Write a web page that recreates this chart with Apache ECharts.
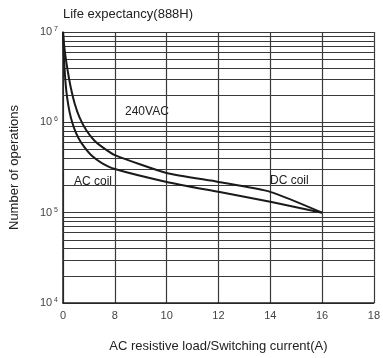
<!DOCTYPE html>
<html>
<head>
<meta charset="utf-8">
<script src="https://cdn.jsdelivr.net/npm/echarts@6/dist/echarts.min.js"></script>
<style>html,body{margin:0;padding:0;background:#fff;}#c{width:383px;height:358px;}</style>
</head>
<body>
<div id="c"></div>
<script>
// Tick labels of the (non-linear) current axis, equally spaced
var xTickLabels = ['0', '8', '10', '12', '14', '16', '18'];
// Upper curve (switching current A, number of operations)
var upperAmps = [0, 0.15, 0.375, 0.75, 1.2, 1.8, 2.55, 3.6, 4.8, 6.3, 8, 10, 12, 14, 16];
var upperOps  = [1e7, 7.38e6, 5.45e6, 3.63e6, 2.43e6, 1.62e6, 1.135e6, 8.17e5, 6.34e5, 5.18e5, 4.34e5, 2.75e5, 2.19e5, 1.7e5, 1e5];
// Lower curve
var lowerAmps = [0, 0.075, 0.15, 0.3, 0.525, 0.825, 1.2, 1.725, 2.4, 3.3, 4.5, 6.0, 8, 10, 12, 14, 16];
var lowerOps  = [1e7, 7.38e6, 5.18e6, 3.37e6, 2.19e6, 1.54e6, 1.135e6, 8.59e5, 6.67e5, 5.31e5, 4.23e5, 3.54e5, 3.04e5, 2.19e5, 1.7e5, 1.32e5, 1e5];
// Minor log grid multipliers and decades
var minorMult = [2, 3, 4, 5, 6, 7, 8, 9];
var decades = [4, 5, 6];

// map current (A) onto the equally spaced tick positions
var tickValues = xTickLabels.map(Number);
function pos(a) {
  for (var i = 0; i < tickValues.length - 1; i++) {
    if (a <= tickValues[i + 1]) {
      return i + (a - tickValues[i]) / (tickValues[i + 1] - tickValues[i]);
    }
  }
  return tickValues.length - 1;
}
function pairs(xs, ys) { return xs.map(function (a, i) { return [pos(a), ys[i]]; }); }

var minorLines = [];
decades.forEach(function (d) {
  minorMult.forEach(function (m) { minorLines.push({ yAxis: m * Math.pow(10, d) }); });
});

var chart = echarts.init(document.getElementById('c'), null, { renderer: 'canvas' });
var gridColor = '#3a3a3a';
chart.setOption({
  animation: false,
  backgroundColor: '#fff',
  grid: { left: 61, right: 2, top: 32, bottom: 53 },
  title: {
    text: 'Life expectancy(888H)', left: 58, top: 3,
    textStyle: { fontFamily: 'Liberation Sans', fontSize: 13, fontWeight: 'normal', color: '#222' }
  },
  xAxis: {
    type: 'value', min: 0, max: xTickLabels.length - 1, interval: 1,
    name: 'AC resistive load/Switching current(A)', nameLocation: 'middle', nameGap: 37,
    nameTextStyle: { fontFamily: 'Liberation Sans', fontSize: 13, color: '#222' },
    axisLine: { show: true, lineStyle: { color: '#222', width: 1.5 } },
    axisTick: { show: false },
    axisLabel: {
      margin: 7, fontFamily: 'Liberation Sans', fontSize: 11, color: '#444',
      formatter: function (v) { return xTickLabels[Math.round(v)]; }
    },
    splitLine: { show: true, lineStyle: { color: gridColor, width: 1.2 } }
  },
  yAxis: {
    type: 'log', logBase: 10, min: 1e4, max: 1e7, splitNumber: 3,
    name: 'Number of operations', nameLocation: 'middle', nameGap: 42,
    nameTextStyle: { fontFamily: 'Liberation Sans', fontSize: 13, color: '#222' },
    axisLine: { show: true, lineStyle: { color: '#222', width: 1.5 } },
    axisTick: { show: false },
    axisLabel: {
      margin: 5, fontFamily: 'Liberation Sans', color: '#444',
      formatter: function (v) {
        var e = Math.round(Math.log10(v));
        return '{b|10}{s| ' + e + '}';
      },
      rich: {
        b: { fontSize: 11, fontFamily: 'Liberation Sans', color: '#444' },
        s: { fontSize: 7, fontFamily: 'Liberation Sans', color: '#444', verticalAlign: 'top', padding: [0, 0, 6, 0] }
      }
    },
    splitLine: { show: true, lineStyle: { color: gridColor, width: 1.2 } }
  },
  graphic: [
    { type: 'text', left: 125, top: 106, style: { text: '240VAC', font: '12px "Liberation Sans"', fill: '#222' } },
    { type: 'text', left: 74, top: 176, style: { text: 'AC coil', font: '12px "Liberation Sans"', fill: '#222' } },
    { type: 'text', left: 270, top: 175, style: { text: 'DC coil', font: '12px "Liberation Sans"', fill: '#222' } }
  ],
  series: [
    {
      type: 'line', data: pairs(upperAmps, upperOps), showSymbol: false, symbol: 'none',
      smooth: 0.2,
      lineStyle: { color: '#1a1a1a', width: 2 }, z: 5,
      markLine: {
        silent: true, symbol: ['none', 'none'], label: { show: false },
        lineStyle: { color: gridColor, width: 1, type: 'solid' },
        data: minorLines, z: 1
      }
    },
    {
      type: 'line', data: pairs(lowerAmps, lowerOps), showSymbol: false, symbol: 'none',
      smooth: 0.2,
      lineStyle: { color: '#1a1a1a', width: 2 }, z: 5
    }
  ]
});
</script>
</body>
</html>
